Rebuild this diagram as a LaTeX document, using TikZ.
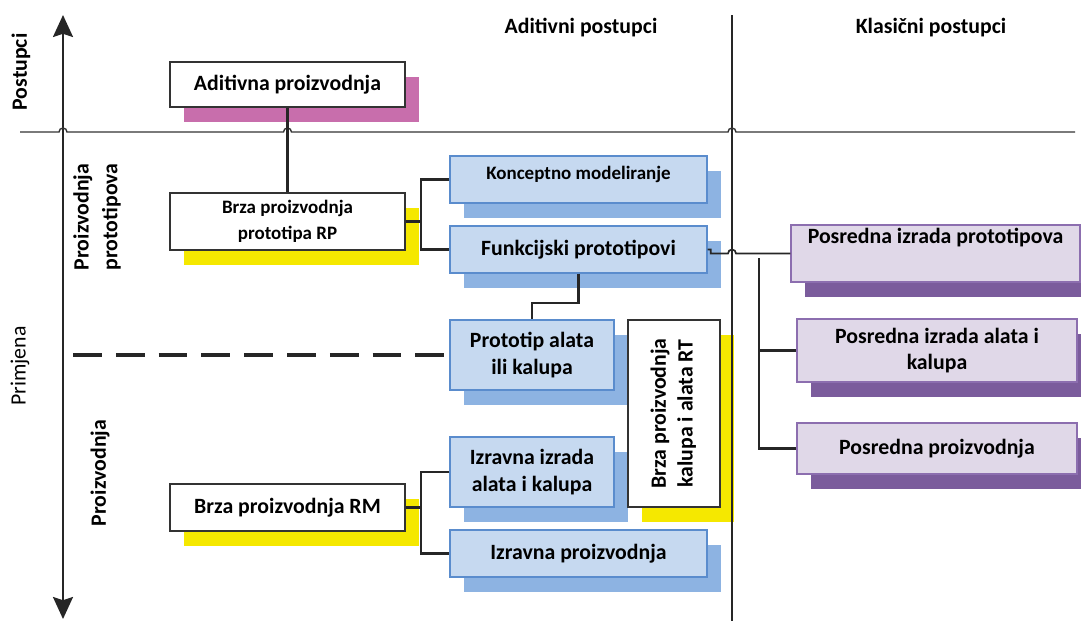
\documentclass[tikz,border=0pt]{standalone}
\usepackage{fontspec}
\setmainfont{Carlito}
\usepackage{graphicx}
\usetikzlibrary{arrows.meta,shadows}

\definecolor{shmag}{RGB}{200,110,172}
\definecolor{shyel}{RGB}{245,232,0}
\definecolor{bfill}{RGB}{198,217,240}
\definecolor{bline}{RGB}{90,140,205}
\definecolor{bshade}{RGB}{141,179,226}
\definecolor{pfill}{RGB}{224,216,232}
\definecolor{pline}{RGB}{140,110,175}
\definecolor{pshade}{RGB}{123,92,156}

\begin{document}
\begin{tikzpicture}[
    x=0.025cm, y=-0.025cm,
    bigtxt/.style={font=\fontsize{15.5}{19}\selectfont\bfseries},
    smalltxt/.style={font=\fontsize{13.5}{18.5}\selectfont\bfseries},
    shadowed/.style={general shadow={fill=#1, shadow xshift=0.35cm, shadow yshift=-0.375cm}},
    wbox/.style={rectangle, draw=black!80, line width=1pt, fill=white, align=center, inner sep=1pt},
    bbox/.style={rectangle, draw=bline, line width=1pt, fill=bfill, align=center, inner sep=1pt, shadowed=bshade},
    pbox/.style={rectangle, draw=pline, line width=1pt, fill=pfill, align=center, inner sep=1pt, shadowed=pshade},
    link/.style={line width=1.7pt, black!85},
    axis/.style={line width=1.6pt, black!85},
    dashline/.style={line width=2.2pt, black!85, dash pattern=on 0.72cm off 0.35cm},
    >={Stealth[length=0.55cm, width=0.5cm, inset=0.08cm]}
]
\useasboundingbox (0,0) rectangle (1081,621);

% Headings and side labels
\node[bigtxt] (aditiv) at (581,28) {Aditivni postupci};
\node[bigtxt] (klasic) at (931,28) {Klasični postupci};
\node[bigtxt, rotate=90] (postupci) at (21,72) {Postupci};
\node[font=\fontsize{15.5}{19}\selectfont, text=black, rotate=90] (primjena) at (20,366) {Primjena};
\node[bigtxt, font=\fontsize{15.5}{20.5}\selectfont\bfseries, rotate=90, align=center] (protlab) at (97,217) {Proizvodnja\\prototipova};
\node[bigtxt, rotate=90] (proizlab) at (100,473) {Proizvodnja};

% Additive side
\node[wbox, bigtxt, shadowed=shmag, minimum width=5.875cm, minimum height=1.125cm] (adp) at (287.5,84.5) {Aditivna proizvodnja};
\node[wbox, smalltxt, shadowed=shyel, minimum width=5.875cm, minimum height=1.425cm] (rp) at (287.5,221.5) {Brza proizvodnja\\prototipa RP};
\node[bbox, smalltxt, minimum width=6.425cm, minimum height=1.175cm, text depth=0.35cm] (km) at (578.5,179.5) {Konceptno modeliranje};
\node[bbox, bigtxt, minimum width=6.425cm, minimum height=1.175cm] (fp) at (578.5,249.5) {Funkcijski prototipovi};
\node[bbox, bigtxt, minimum width=4.1cm, minimum height=1.75cm] (pak) at (532,355) {Prototip alata\\ili kalupa};
\node[bbox, bigtxt, minimum width=4.1cm, minimum height=1.75cm] (iak) at (532,472) {Izravna izrada\\alata i kalupa};
\node[bbox, bigtxt, minimum width=6.425cm, minimum height=1.175cm] (ip) at (578.5,553.5) {Izravna proizvodnja};
\node[wbox, bigtxt, shadowed=shyel, minimum width=2.3cm, minimum height=4.675cm] (rt) at (674,413.5)
    {\rotatebox{90}{\begin{tabular}{@{}c@{}}Brza proizvodnja\\kalupa i alata RT\end{tabular}}};
\node[wbox, bigtxt, shadowed=shyel, minimum width=5.875cm, minimum height=1.175cm] (rm) at (287.5,507.5) {Brza proizvodnja RM};

% Classic side
\node[pbox, bigtxt, minimum width=7.225cm, minimum height=1.425cm, text depth=0.9cm] (p1) at (935.5,253.5) {Posredna izrada prototipova};
\node[pbox, bigtxt, minimum width=7cm, minimum height=1.575cm] (p2) at (937,350.5) {Posredna izrada alata i\\kalupa};
\node[pbox, bigtxt, minimum width=7cm, minimum height=1.275cm] (p3) at (937,448.5) {Posredna proizvodnja};

% Axes
\coordinate (atop) at (63,15);
\coordinate (abot) at (63,619);
\draw[axis, <->] (abot) -- (atop);
\coordinate (dtop) at (732,15);
\coordinate (dbot) at (732,621);
\draw[line width=1.4pt, black!85] (dtop) -- (dbot);
\draw[line width=1pt, black!80] (20,132) -- (59,132) arc (180:360:4) -- (283.5,132) arc (180:360:4)
    -- (728,132) arc (180:360:4) -- (1075,132);

% Connections
\draw[link] (adp) -- (rp);
\coordinate (rpj) at (421,221.5);
\draw[link] (rp.east) -- (rpj);
\draw[link] (km.west) -| (rpj) |- (fp.west);
\draw[link] (fp.south) -- ++(0,29) -| (pak.north);
\coordinate (dstart) at (73,355);
\draw[dashline] (dstart) -- (pak.west);
\coordinate (rmj) at (421,507.5);
\draw[link] (rm.east) -- (rmj);
\draw[link] (iak.west) -| (rmj) |- (ip.west);

\draw[line width=1.2pt, black!85] (fp.east) -- ++(3,0) |- (728,253.5) arc (180:360:4) -- (p1.west);
\coordinate (pj) at (759,258);
\draw[link] (pj) |- (p2.west);
\draw[link] (pj) |- (p3.west);

\end{tikzpicture}
\end{document}
